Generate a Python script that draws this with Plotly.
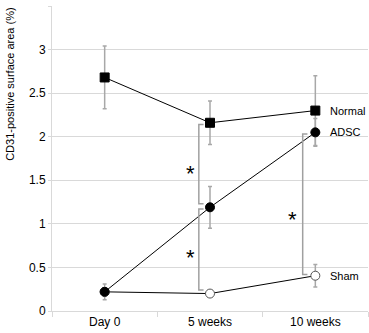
import plotly.graph_objects as go

# Time points
timepoints = ["Day 0", "5 weeks", "10 weeks"]

# CD31-positive surface area (%) and standard errors per group
normal_mean = [2.68, 2.16, 2.30]
normal_err = [0.36, 0.25, 0.40]
adsc_mean = [0.22, 1.19, 2.05]
adsc_err = [0.09, 0.24, 0.16]
sham_mean = [0.22, 0.20, 0.405]
sham_err = [0.0, 0.0, 0.13]

# Significance brackets: (x position in category units, top, bottom)
bracket_x = [0.894, 0.894, 1.88]
bracket_top = [2.14, 1.17, 2.03]
bracket_bottom = [1.23, 0.24, 0.42]
star_x = [0.815, 0.815, 1.787]
star_y = [1.63, 0.666, 1.11]

GRID = "#d9d9d9"
ERR = "#a8a8a8"
BRK = "#a0a0a0"
FONT = "Liberation Sans, Arial, sans-serif"

fig = go.Figure()


def add_series(mean, err, symbol, fill, size, line_col):
    fig.add_trace(go.Scatter(
        x=timepoints, y=mean,
        mode="lines+markers",
        line=dict(color="black", width=1),
        marker=dict(symbol=symbol, size=size, color=fill,
                    line=dict(color=line_col, width=1)),
        error_y=dict(type="data", array=err, color=ERR, thickness=1.5, width=2),
        showlegend=False, cliponaxis=False,
    ))


add_series(normal_mean, normal_err, "square", "black", 9, "black")
add_series(sham_mean, sham_err, "circle", "white", 9, "#555555")
add_series(adsc_mean, adsc_err, "circle", "black", 9, "black")

# Group labels beside the last time point
for name, val in [("Normal", normal_mean[-1]), ("ADSC", adsc_mean[-1]), ("Sham", sham_mean[-1])]:
    fig.add_annotation(x=2, y=val, text=name, xref="x", yref="y",
                       xanchor="left", yanchor="middle", xshift=13,
                       showarrow=False, font=dict(size=11, color="black", family=FONT))

# Brackets with short right-pointing ends
for bx, top, bot in zip(bracket_x, bracket_top, bracket_bottom):
    tip = bx + 0.045
    fig.add_shape(type="path", xref="x", yref="y",
                  path=f"M {tip},{top} L {bx},{top} L {bx},{bot} L {tip},{bot}",
                  line=dict(color=BRK, width=1.5))

for sx, sy in zip(star_x, star_y):
    fig.add_annotation(x=sx, y=sy, xref="x", yref="y", text="*", showarrow=False,
                       font=dict(size=22, color="black", family=FONT), yshift=-5)

# Y-axis title
fig.add_annotation(text="CD31-positive surface area (%)", xref="paper", yref="paper",
                   x=-0.135, y=1.0, xanchor="center", yanchor="top", textangle=-90,
                   showarrow=False, font=dict(size=11, color="black", family=FONT))

fig.update_xaxes(type="category", range=[-0.5, 2.5], tickson="boundaries",
                 ticks="outside", ticklen=5, tickcolor=GRID, showline=True,
                 linecolor=GRID, linewidth=1, showgrid=False, zeroline=False,
                 tickfont=dict(size=12, color="black", family=FONT))
fig.update_yaxes(range=[0, 3.5], dtick=0.5, ticks="outside",
                 ticklen=3, tickcolor=GRID, showline=True, linecolor=GRID,
                 linewidth=1, showgrid=True, gridcolor=GRID, gridwidth=1,
                 zeroline=False, tickfont=dict(size=12, color="black", family=FONT))

fig.update_layout(width=369, height=333, margin=dict(l=52, r=1, t=6, b=22),
                  plot_bgcolor="white", paper_bgcolor="white")

fig.write_html("out.html")
